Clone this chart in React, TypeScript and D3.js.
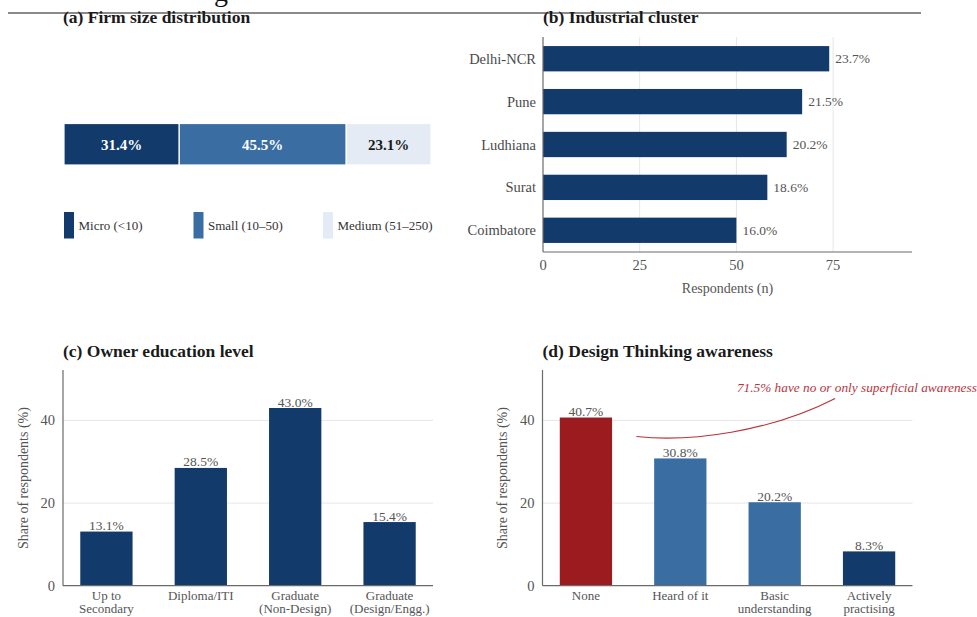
import React from "react";
import * as d3 from "d3";

const sizeCategories = ["Micro (<10)", "Small (10–50)", "Medium (51–250)"];
const sizeShares = [31.4, 45.5, 23.1];

const clusterNames = ["Delhi-NCR", "Pune", "Ludhiana", "Surat", "Coimbatore"];
const clusterCounts = [74, 67, 63, 58, 50];
const clusterShares = [23.7, 21.5, 20.2, 18.6, 16.0];
const clusterTicks = [0, 25, 50, 75];

const educationLabels = [["Up to", "Secondary"], ["Diploma/ITI"], ["Graduate", "(Non-Design)"], ["Graduate", "(Design/Engg.)"]];
const educationShares = [13.1, 28.5, 43.0, 15.4];

const awarenessLabels = [["None"], ["Heard of it"], ["Basic", "understanding"], ["Actively", "practising"]];
const awarenessShares = [40.7, 30.8, 20.2, 8.3];
const shareTicks = [0, 20, 40];

const annotationText = "71.5% have no or only superficial awareness";

const NAVY = "#123a6b";
const MID = "#3a6ea3";
const LIGHT = "#e4ebf4";
const RED = "#9b1b1f";
const ANNO = "#b8343c";
const GRID = "#e6e6e6";
const AXIS = "#6a6a6a";
const TXT = "#555555";
const FONT = "'Liberation Serif', 'Times New Roman', serif";

const sizeColors = [NAVY, MID, LIGHT];
const sizeLabelColors = ["#ffffff", "#ffffff", "#1a1a1a"];
const awarenessColors = [RED, MID, MID, NAVY];

function Title({ x, y, text }: { x: number; y: number; text: string }) {
  return (
    <text x={x} y={y} fontFamily={FONT} fontWeight="bold" fontSize={17.5} fill="#1a1a1a">
      {text}
    </text>
  );
}

function PanelA() {
  const x = d3.scaleLinear().domain([0, 100]).range([64, 431]);
  const starts = sizeShares.map((_, i) => d3.sum(sizeShares.slice(0, i)));
  const barTop = 123.5;
  const barH = 41.5;
  const legendX = d3.scalePoint<string>().domain(sizeCategories).range([64, 323]);
  return (
    <g>
      <Title x={63} y={22.5} text="(a) Firm size distribution" />
      {sizeShares.map((v, i) => (
        <g key={i}>
          <rect x={x(starts[i])} y={barTop} width={x(starts[i] + v) - x(starts[i])} height={barH}
            fill={sizeColors[i]} stroke="#ffffff" strokeWidth={1.2} />
          <text x={(x(starts[i]) + x(starts[i] + v)) / 2} y={barTop + barH / 2} dy="0.35em"
            textAnchor="middle" fontFamily={FONT} fontWeight="bold" fontSize={15} fill={sizeLabelColors[i]}>
            {v.toFixed(1)}%
          </text>
        </g>
      ))}
      {sizeCategories.map((c, i) => (
        <g key={c}>
          <rect x={legendX(c)!} y={212} width={10} height={26.5} fill={sizeColors[i]} />
          <text x={legendX(c)! + 14.5} y={225} dy="0.35em" fontFamily={FONT} fontSize={13} fill="#333">
            {c}
          </text>
        </g>
      ))}
    </g>
  );
}

function PanelB() {
  const x = d3.scaleLinear().domain([0, 95.4]).range([543, 912]);
  const y = d3.scaleBand<string>().domain(clusterNames).range([37.5, 251.5]).paddingInner(0.41).paddingOuter(0.2);
  return (
    <g>
      <Title x={543} y={22.5} text="(b) Industrial cluster" />
      {clusterTicks.filter((t) => t > 0).map((t) => (
        <line key={t} x1={x(t)} x2={x(t)} y1={37} y2={252} stroke={GRID} strokeWidth={1} />
      ))}
      {clusterNames.map((n, i) => (
        <g key={n}>
          <rect x={x(0)} y={y(n)!} width={x(clusterCounts[i]) - x(0)} height={y.bandwidth()} fill={NAVY} />
          <text x={x(clusterCounts[i]) + 6} y={y(n)! + y.bandwidth() / 2} dy="0.35em"
            fontFamily={FONT} fontSize={13.5} fill={TXT}>
            {clusterShares[i].toFixed(1)}%
          </text>
          <text x={536} y={y(n)! + y.bandwidth() / 2} dy="0.35em" textAnchor="end"
            fontFamily={FONT} fontSize={14.5} fill="#4a4a4a">
            {n}
          </text>
        </g>
      ))}
      <line x1={x(0)} x2={x(0)} y1={37} y2={252} stroke={AXIS} strokeWidth={1.2} />
      <line x1={x(0)} x2={912} y1={252} y2={252} stroke={AXIS} strokeWidth={1.2} />
      {clusterTicks.map((t) => (
        <text key={t} x={x(t)} y={265} dy="0.35em" textAnchor="middle" fontFamily={FONT} fontSize={14.5} fill={TXT}>
          {t}
        </text>
      ))}
      <text x={727.5} y={288} dy="0.35em" textAnchor="middle" fontFamily={FONT} fontSize={14} fill={TXT}>
        Respondents (n)
      </text>
    </g>
  );
}

function VBarPanel({ x0, title, labels, values, colors, annotate }: {
  x0: number; title: string; labels: string[][]; values: number[]; colors: string[]; annotate?: boolean;
}) {
  const keys = labels.map((l) => l.join(" "));
  const xs = d3.scaleBand<string>().domain(keys).range([x0, x0 + 370]).paddingInner(0.446).paddingOuter(0.183);
  const y = d3.scaleLinear().domain([0, 52.2]).range([585.7, 370]);
  const step = xs.step();
  const posAt = (idx: number) => xs(keys[0])! + xs.bandwidth() / 2 + idx * step;
  let curve: string | null = null;
  if (annotate) {
    const p = d3.path();
    p.moveTo(posAt(0.535), y(36.1));
    p.bezierCurveTo(posAt(1.1), y(34.7), posAt(1.95), y(37.2), posAt(2.64), y(45.3));
    curve = p.toString();
  }
  return (
    <g>
      <Title x={x0} y={357} text={title} />
      {shareTicks.filter((t) => t > 0).map((t) => (
        <line key={t} x1={x0} x2={x0 + 370} y1={y(t)} y2={y(t)} stroke={GRID} strokeWidth={1} />
      ))}
      {keys.map((k, i) => (
        <g key={k}>
          <rect x={xs(k)!} y={y(values[i])} width={xs.bandwidth()} height={y(0) - y(values[i])} fill={colors[i]} />
          <text x={xs(k)! + xs.bandwidth() / 2} y={y(values[i]) - 1.5} textAnchor="middle"
            fontFamily={FONT} fontSize={13.5} fill={TXT}>
            {values[i].toFixed(1)}%
          </text>
          {labels[i].map((line, j) => (
            <text key={j} x={xs(k)! + xs.bandwidth() / 2} y={595 + j * 13.5} dy="0.35em" textAnchor="middle"
              fontFamily={FONT} fontSize={13} fill={TXT}>
              {line}
            </text>
          ))}
        </g>
      ))}
      <line x1={x0} x2={x0} y1={370} y2={585.7} stroke={AXIS} strokeWidth={1.2} />
      <line x1={x0} x2={x0 + 370} y1={585.7} y2={585.7} stroke={AXIS} strokeWidth={1.2} />
      {shareTicks.map((t) => (
        <text key={t} x={x0 - 8} y={y(t)} dy="0.35em" textAnchor="end" fontFamily={FONT} fontSize={14.5} fill={TXT}>
          {t}
        </text>
      ))}
      <text transform={`translate(${x0 - 40},${478}) rotate(-90)`} textAnchor="middle" dy="0.35em"
        fontFamily={FONT} fontSize={14} fill={TXT}>
        Share of respondents (%)
      </text>
      {annotate && curve && (
        <g>
          <path d={curve} fill="none" stroke={ANNO} strokeWidth={1.2} />
          <text x={posAt(1.6)} y={y(48)} dy="0.35em" fontFamily={FONT} fontStyle="italic" fontSize={13.3}
            fill={ANNO}>
            {annotationText}
          </text>
        </g>
      )}
    </g>
  );
}

export default function App() {
  return (
    <svg width={977} height={617} style={{ position: "absolute", left: 0, top: 0, display: "block", background: "#fff" }}>
      <rect x={0} y={0} width={977} height={617} fill="#ffffff" />
      <text x={214} y={1} fontFamily={FONT} fontSize={28} fill="#111">g</text>
      <line x1={8} x2={921} y1={13} y2={13} stroke="#8a8a8a" strokeWidth={2} />
      <PanelA />
      <PanelB />
      <VBarPanel x0={63} title="(c) Owner education level" labels={educationLabels} values={educationShares}
        colors={educationShares.map(() => NAVY)} />
      <VBarPanel x0={542.5} title="(d) Design Thinking awareness" labels={awarenessLabels} values={awarenessShares}
        colors={awarenessColors} annotate />
    </svg>
  );
}
